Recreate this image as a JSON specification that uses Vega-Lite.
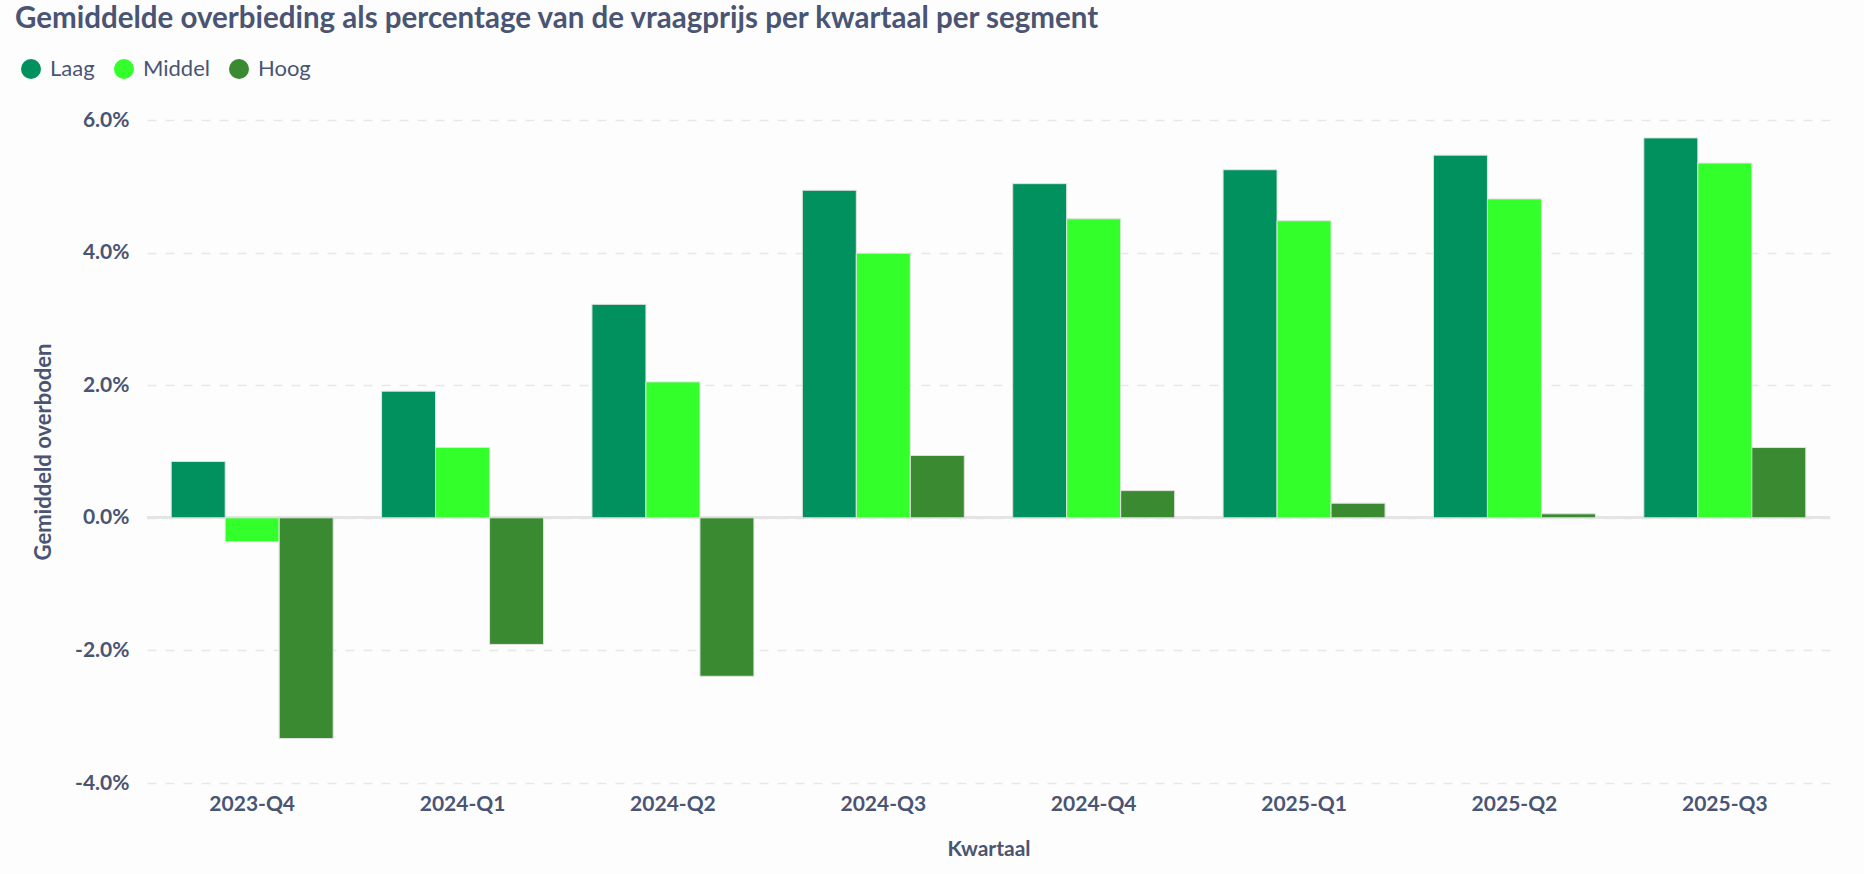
{
  "$schema": "https://vega.github.io/schema/vega-lite/v6.json",
  "width": 1683,
  "height": 663,
  "autosize": {"type": "none"},
  "padding": {"left": 147, "top": 120, "right": 34, "bottom": 91},
  "background": "#fdfdfd",
  "title": {
    "text": "Gemiddelde overbieding als percentage van de vraagprijs per kwartaal per segment",
    "anchor": "start",
    "frame": "group",
    "dx": -132,
    "offset": 1,
    "baseline": "alphabetic",
    "font": "Lato",
    "fontSize": 29.5,
    "fontWeight": "bold",
    "color": "#4a5473"
  },
  "data": {
    "values": [
      {"kwartaal": "2023-Q4", "segment": "Laag", "waarde": 0.0085},
      {"kwartaal": "2023-Q4", "segment": "Middel", "waarde": -0.0036},
      {"kwartaal": "2023-Q4", "segment": "Hoog", "waarde": -0.0333},
      {"kwartaal": "2024-Q1", "segment": "Laag", "waarde": 0.0191},
      {"kwartaal": "2024-Q1", "segment": "Middel", "waarde": 0.0106},
      {"kwartaal": "2024-Q1", "segment": "Hoog", "waarde": -0.0191},
      {"kwartaal": "2024-Q2", "segment": "Laag", "waarde": 0.0322},
      {"kwartaal": "2024-Q2", "segment": "Middel", "waarde": 0.0205},
      {"kwartaal": "2024-Q2", "segment": "Hoog", "waarde": -0.0239},
      {"kwartaal": "2024-Q3", "segment": "Laag", "waarde": 0.0494},
      {"kwartaal": "2024-Q3", "segment": "Middel", "waarde": 0.0399},
      {"kwartaal": "2024-Q3", "segment": "Hoog", "waarde": 0.0094},
      {"kwartaal": "2024-Q4", "segment": "Laag", "waarde": 0.0504},
      {"kwartaal": "2024-Q4", "segment": "Middel", "waarde": 0.0451},
      {"kwartaal": "2024-Q4", "segment": "Hoog", "waarde": 0.0041},
      {"kwartaal": "2025-Q1", "segment": "Laag", "waarde": 0.0525},
      {"kwartaal": "2025-Q1", "segment": "Middel", "waarde": 0.0448},
      {"kwartaal": "2025-Q1", "segment": "Hoog", "waarde": 0.0022},
      {"kwartaal": "2025-Q2", "segment": "Laag", "waarde": 0.0547},
      {"kwartaal": "2025-Q2", "segment": "Middel", "waarde": 0.0481},
      {"kwartaal": "2025-Q2", "segment": "Hoog", "waarde": 0.0006},
      {"kwartaal": "2025-Q3", "segment": "Laag", "waarde": 0.0573},
      {"kwartaal": "2025-Q3", "segment": "Middel", "waarde": 0.0535},
      {"kwartaal": "2025-Q3", "segment": "Hoog", "waarde": 0.0106}
    ]
  },
  "layer": [
    {
      "mark": {"type": "rule", "color": "#e4e4e4", "strokeWidth": 2},
      "encoding": {"y": {"datum": 0, "type": "quantitative"}}
    },
    {
      "mark": {"type": "bar", "stroke": "#e2e2e2", "strokeWidth": 1},
      "encoding": {
        "x": {
          "field": "kwartaal",
          "type": "nominal",
          "sort": null,
          "scale": {"paddingInner": 0.23, "paddingOuter": 0.115},
          "axis": {
            "title": "Kwartaal",
            "labelAngle": 0,
            "domain": false,
            "ticks": false,
            "labelPadding": 10,
            "titlePadding": 24,
            "labelFont": "Lato",
            "labelFontSize": 21,
            "labelFontWeight": "bold",
            "labelColor": "#4a5473",
            "titleFont": "Lato",
            "titleFontSize": 21,
            "titleFontWeight": "bold",
            "titleColor": "#4a5473"
          }
        },
        "xOffset": {
          "field": "segment",
          "type": "nominal",
          "sort": ["Laag", "Middel", "Hoog"],
          "scale": {"paddingInner": 0, "paddingOuter": 0}
        },
        "y": {
          "field": "waarde",
          "type": "quantitative",
          "scale": {"domain": [-0.04, 0.06], "nice": false, "zero": false},
          "axis": {
            "title": "Gemiddeld overboden",
            "values": [-0.04, -0.02, 0, 0.02, 0.04, 0.06],
            "labelExpr": "replace(format(datum.value, '.1%'), '\u2212', '-')",
            "domain": false,
            "ticks": false,
            "labelPadding": 18,
            "titlePadding": 19,
            "grid": true,
            "gridColor": "#e8e8e8",
            "gridDash": [9, 9],
            "gridWidth": 1.5,
            "labelFont": "Lato",
            "labelFontSize": 21,
            "labelFontWeight": "bold",
            "labelColor": "#4a5473",
            "titleFont": "Lato",
            "titleFontSize": 22,
            "titleFontWeight": "bold",
            "titleColor": "#4a5473"
          }
        },
        "color": {
          "field": "segment",
          "type": "nominal",
          "sort": ["Laag", "Middel", "Hoog"],
          "scale": {
            "domain": ["Laag", "Middel", "Hoog"],
            "range": ["#00915F", "#33FF2A", "#3A8A32"]
          },
          "legend": {
            "title": null,
            "orient": "none",
            "direction": "horizontal",
            "legendX": -127,
            "legendY": -62,
            "symbolType": "circle",
            "symbolSize": 400,
            "symbolStrokeWidth": 0,
            "symbolOpacity": 1,
            "labelOffset": 8,
            "columnPadding": 18,
            "labelFont": "Lato",
            "labelFontSize": 22,
            "labelColor": "#4a5473",
            "padding": 0
          }
        }
      }
    }
  ],
  "config": {"view": {"stroke": null}}
}
